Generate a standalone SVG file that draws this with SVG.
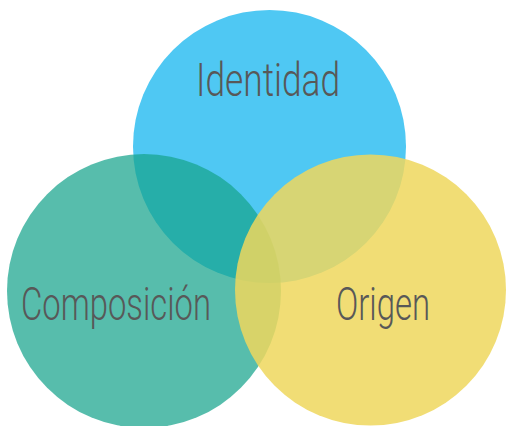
<svg xmlns="http://www.w3.org/2000/svg" width="506" height="426" viewBox="0 0 506 426">
<style>
.lbl{font-family:"Roboto","Liberation Sans",sans-serif;font-weight:300;font-size:47px;fill:#585858}
</style>
<rect width="506" height="426" fill="#ffffff"/>
<g id="identidad">
<circle cx="269.5" cy="146.5" r="136.5" fill="#4fc8f3"/>
</g>
<g id="composicion">
<circle cx="144" cy="291" r="137" fill="#16a48c" fill-opacity="0.72"/>
</g>
<g id="origen">
<circle cx="370.5" cy="290" r="135.5" fill="#eed75d" fill-opacity="0.85"/>
</g>
<g id="labels">
<text class="lbl" x="196" y="96" textLength="144" lengthAdjust="spacingAndGlyphs">Identidad</text>
<text class="lbl" x="21" y="320" textLength="190" lengthAdjust="spacingAndGlyphs">Composición</text>
<text class="lbl" x="336" y="320" textLength="94" lengthAdjust="spacingAndGlyphs" fill="#4a4a4a">Origen</text>
</g>
<g id="connectors"/>
</svg>
